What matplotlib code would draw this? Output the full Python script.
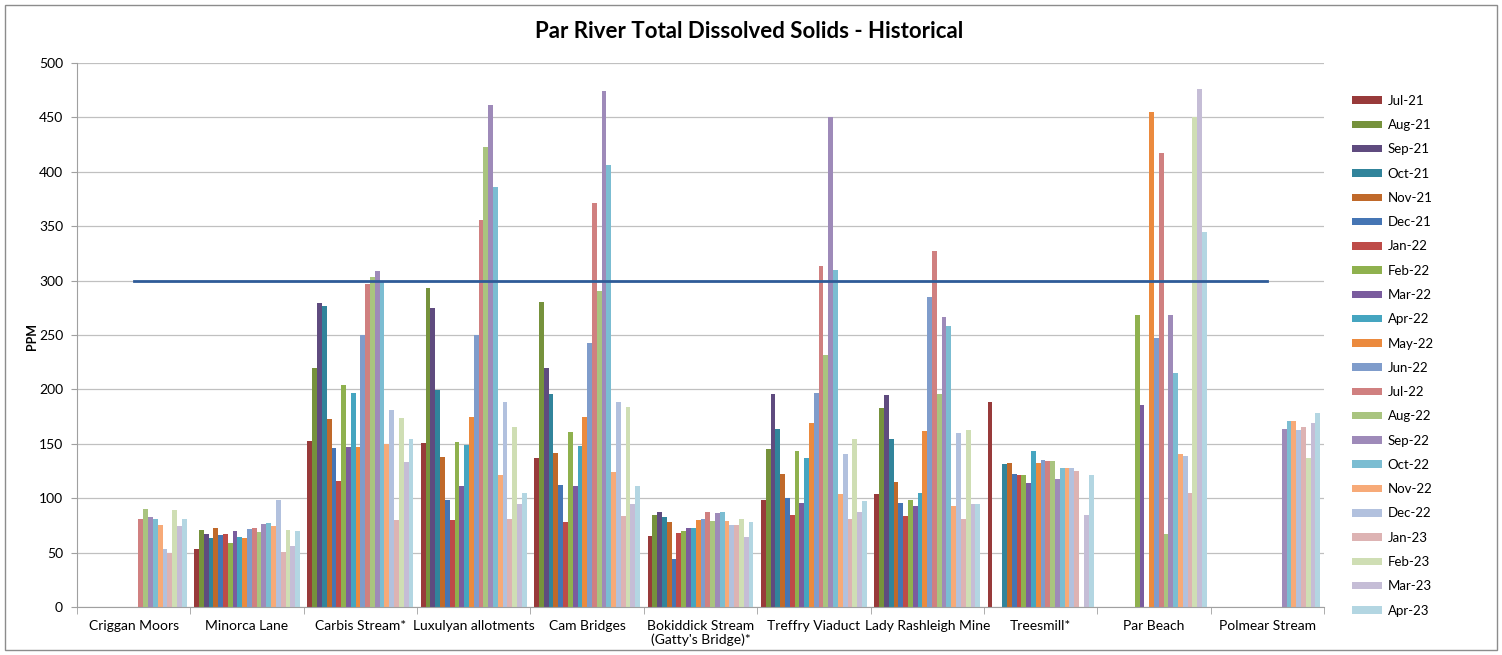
#!/usr/bin/env python
# grouped bar chart of dissolved solids per site, one bar per month
import numpy as np
import matplotlib.pyplot as plt
from matplotlib.patches import Rectangle

N = np.nan

sites = ['Criggan Moors', 'Minorca Lane', 'Carbis Stream*', 'Luxulyan allotments',
         'Cam Bridges', "Bokiddick Stream\n(Gatty's Bridge)*", 'Treffry Viaduct',
         'Lady Rashleigh Mine', 'Treesmill*', 'Par Beach', 'Polmear Stream']

months = ['Jul-21', 'Aug-21', 'Sep-21', 'Oct-21', 'Nov-21', 'Dec-21', 'Jan-22',
          'Feb-22', 'Mar-22', 'Apr-22', 'May-22', 'Jun-22', 'Jul-22', 'Aug-22',
          'Sep-22', 'Oct-22', 'Nov-22', 'Dec-22', 'Jan-23', 'Feb-23', 'Mar-23', 'Apr-23']

colors = ['#983a3a', '#76923c', '#5f4b7f', '#31849b', '#c0692a', '#4575b4',
          '#be4b48', '#8fb14e', '#7a5c9e', '#45a5c0', '#eb8a3e', '#7f9ccb',
          '#d08080', '#a9c47f', '#9e8ab9', '#7bbdd2', '#f7aa78', '#b2c1de',
          '#ddb3b3', '#cfdeb4', '#c5bdd6', '#b3d6e2']

# values per site, Jul-21 .. Apr-23 (nan = no sample)
criggan   = [N, N, N, N, N, N, N, N, N, N, N, N, 81, 90, 83, 81, 75, 53, 50, 89, 74, 81]
minorca   = [53, 71, 67, 63, 73, 66, 67, 59, 70, 64, 63, 72, 73, 69, 76, 77, 74, 98, 51, 71, 56, 70]
carbis    = [153, 220, 279, 277, 173, 146, 116, 204, 147, 197, 147, 250, 297, 303, 309, 300, 150, 181, 80, 174, 133, 154]
luxulyan  = [151, 293, 275, 199, 138, 98, 80, 152, 111, 149, 175, 250, 356, 423, 461, 386, 121, 188, 81, 165, 95, 105]
cam       = [137, 280, 220, 196, 142, 112, 78, 161, 111, 148, 175, 243, 371, 290, 474, 406, 124, 188, 84, 184, 95, 111]
bokiddick = [65, 85, 87, 83, 78, 44, 68, 70, 73, 73, 80, 81, 87, 79, 86, 87, 79, 75, 75, 81, 64, 78]
treffry   = [98, 145, 196, 164, 122, 100, 85, 143, 96, 137, 169, 197, 313, 232, 450, 310, 104, 141, 81, 154, 87, 97]
rashleigh = [104, 183, 195, 154, 115, 96, 84, 98, 93, 105, 162, 285, 327, 196, 267, 258, 93, 160, 81, 163, 95, 95]
treesmill = [188, N, N, 131, 132, 122, 121, 121, 114, 143, 132, 135, 134, 134, 118, 128, 128, 128, 125, N, 85, 121]
par_beach = [N, N, N, N, N, N, N, 268, 186, N, 455, 247, 417, 67, 268, 215, 141, 139, 105, 450, 476, 345]
polmear   = [N, N, N, N, N, N, N, N, N, N, N, N, N, N, 164, 171, 171, 163, 165, 137, 169, 178]

limit = 300

data = np.array([criggan, minorca, carbis, luxulyan, cam, bokiddick,
                 treffry, rashleigh, treesmill, par_beach, polmear], dtype=float)

plt.rcParams['font.family'] = ['Lato', 'DejaVu Sans']

fig = plt.figure(figsize=(15.02, 6.55), dpi=100)
ax = fig.add_axes([77/1502, 1 - 607/655, (1324 - 77)/1502, (607 - 63)/655])

ind = np.arange(len(sites))
group = 0.935
width = group / len(months)

for i, m in enumerate(months):
    x = ind - group/2 + width*(i + 0.5)
    ax.bar(x, data[:, i], width, color=colors[i], label=m, linewidth=0, zorder=2)

ax.plot([ind[0], ind[-1]], [limit, limit], color='#2f5b98', linewidth=2, zorder=3)

ax.set_xlim(-0.5, len(sites) - 0.5)
ax.set_ylim(0, 500)
ax.set_yticks(np.arange(0, 501, 50))
ax.yaxis.grid(True, color='#c0c0c0', linewidth=0.9, zorder=0)
ax.set_axisbelow(True)
ax.set_xticks(ind)
ax.set_xticklabels(sites, fontsize=10)
ax.set_xticks(np.arange(len(sites) + 1) - 0.5, minor=True)
ax.tick_params(axis='x', which='major', length=0, pad=9)
ax.tick_params(axis='x', which='minor', length=5, color='#a0a0a0')
ax.tick_params(axis='y', length=4, color='#a0a0a0', labelsize=10, pad=6)
for s in ['top', 'right']:
    ax.spines[s].set_visible(False)
for s in ['left', 'bottom']:
    ax.spines[s].set_color('#a0a0a0')

fig.text(32/1502, 1 - 337/655, 'PPM', fontsize=9, fontweight='bold',
         rotation=90, ha='center', va='center')

fig.text(749/1502, 1 - 32/655, 'Par River Total Dissolved Solids - Historical',
         fontsize=16, fontweight='bold', ha='center', va='center')

ax.legend(loc='upper left', bbox_to_anchor=(1340/1502, 1 - 83/655),
          bbox_transform=fig.transFigure, frameon=False, fontsize=9.5,
          handlelength=2.3, handleheight=0.5, labelspacing=0.93, handletextpad=0.4)

fig.patches.append(Rectangle((5/1502, 5/655), 1492/1502, 645/655, transform=fig.transFigure,
                             fill=False, edgecolor='#8c8c8c', linewidth=1))

plt.savefig('out.png', dpi=100)
